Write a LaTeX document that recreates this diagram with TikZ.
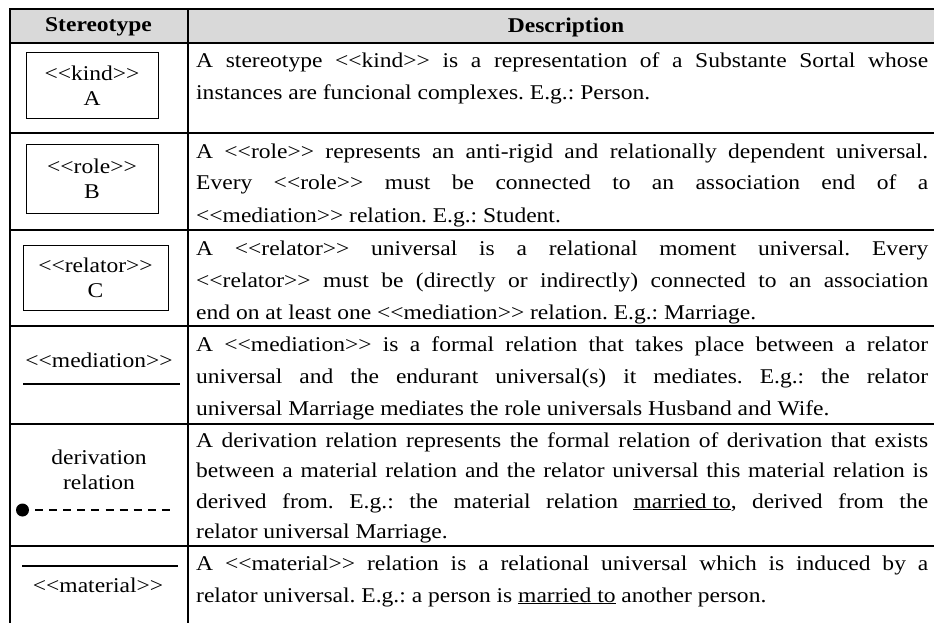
\documentclass[tikz,border=0pt]{standalone}
\usepackage{fontspec}
\setmainfont{Liberation Serif}[FakeStretch=1.12]
\usepackage{tikz}
\usetikzlibrary{positioning}
\definecolor{headgray}{RGB}{217,217,217}
\newcommand{\ster}[1]{<\kern0pt<#1>\kern0pt>}
\newcommand{\bodyfont}{\fontsize{21}{32}\selectfont}
\newcommand{\boxfont}{\fontsize{21}{25}\selectfont}
\tolerance=10000
\hbadness=10000
\hfuzz=5pt
\hyphenpenalty=10000
\frenchspacing

\begin{document}
\begin{tikzpicture}[x=1pt,y=-1pt]
\tikzstyle{every node}=[inner sep=0pt,font=\bodyfont]
\tikzstyle{tabline}=[line width=2pt]
\tikzstyle{desc}=[anchor=base west,text width=732pt,align=justify]
\tikzstyle{umlbox}=[draw,line width=1pt,minimum height=66pt,align=center,font=\boxfont]
\useasboundingbox (0,0) rectangle (934,623);
% header
\fill[headgray] (9.5,9.5) rectangle (934,43);
\node[font=\bodyfont\bfseries] (hst) at (98.5,27) {Stereotype};
\node[font=\bodyfont\bfseries] (hds) at (566,27) {Description};
% grid
\draw[tabline] (9.5,623) -- (9.5,9.5) -- (934,9.5);
\draw[tabline] (188,9.5) -- (188,623);
\foreach \y in {43,133,230,326,424,546}
  \draw[tabline] (9.5,\y) -- (934,\y);
% stereotype column
\node[umlbox,minimum width=132pt] (kind) at (92,86) {\ster{kind}\\A};
\node[umlbox,minimum width=132pt,minimum height=68pt] (role) at (92,179) {\ster{role}\\B};
\node[umlbox,minimum width=145pt,minimum height=65pt] (relator) at (95.5,277.5) {\ster{relator}\\C};
\node (med) at (99,360) {\ster{mediation}};
\coordinate (medl) at (23,384);
\coordinate (medr) at (180,384);
\draw[line width=1.3pt] (medl) -- (medr);
\node[align=center,font=\boxfont] (deriv) at (99,469.5) {derivation\\relation};
\node[circle,fill,minimum size=13pt] (dot) at (22.5,510) {};
\coordinate (dbeg) at (35,510);
\coordinate (dend) at (170,510);
\draw[line width=1.2pt,dash pattern=on 8pt off 6.1pt] (dbeg) -- (dend);
\coordinate (matl) at (22,566);
\coordinate (matr) at (178,566);
\draw[line width=1.3pt] (matl) -- (matr);
\node (mat) at (98,585) {\ster{material}};
% description column
\node[desc] (dkind) at (196,68) {A stereotype \ster{kind} is a representation of a Substante Sortal whose\linebreak
instances are funcional complexes. E.g.: Person.};
\node[desc] (drole) at (196,158) {A \ster{role} represents an anti-rigid and relationally dependent universal.\linebreak
Every \ster{role} must be connected to an association end of a\linebreak
\ster{mediation} relation. E.g.: Student.};
\node[desc] (drel) at (196,255) {A \ster{relator} universal is a relational moment universal. Every\linebreak
\ster{relator} must be (directly or indirectly) connected to an association\linebreak
end on at least one \ster{mediation} relation. E.g.: Marriage.};
\node[desc] (dmed) at (196,351) {A \ster{mediation} is a formal relation that takes place between a relator\linebreak
universal and the endurant universal(s) it mediates. E.g.: the relator\linebreak
universal Marriage mediates the role universals Husband and Wife.};
\node[desc,font=\fontsize{21}{30.5}\selectfont] (dder) at (196,447) {A derivation relation represents the formal relation of derivation that exists\linebreak
between a material relation and the relator universal this material relation is\linebreak
derived from. E.g.: the material relation \underline{married to}, derived from the\linebreak
relator universal Marriage.};
\node[desc] (dmat) at (196,570) {A \ster{material} relation is a relational universal which is induced by a\linebreak
relator universal. E.g.: a person is \underline{married to} another person.};
\end{tikzpicture}
\end{document}
